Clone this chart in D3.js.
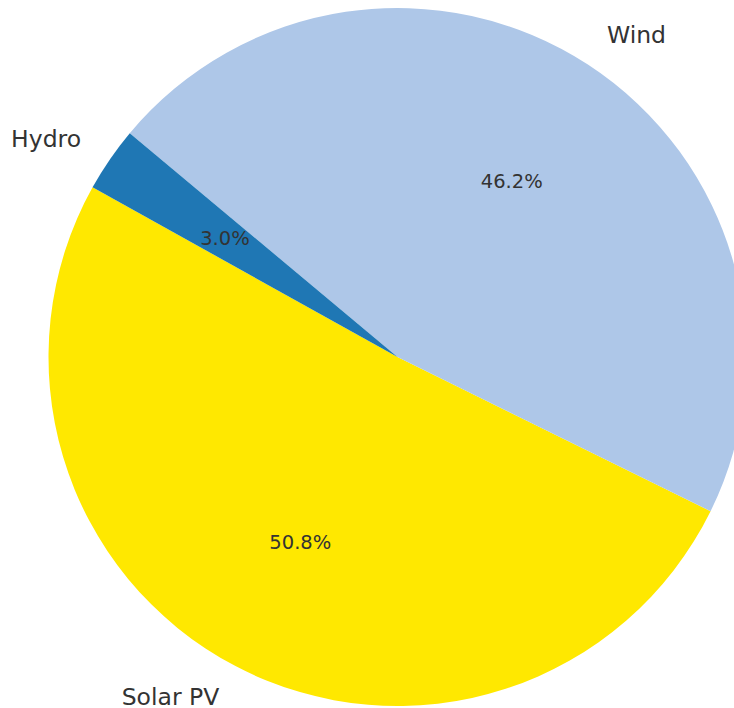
<!DOCTYPE html>
<html>
<head>
<meta charset="utf-8">
<script src="https://cdn.jsdelivr.net/npm/d3@7"></script>
<style>
  html, body { margin: 0; padding: 0; background: #fff; }
  svg text { font-family: "DejaVu Sans", sans-serif; fill: #333; }
</style>
</head>
<body>
<svg id="chart" width="734" height="708"></svg>
<script>
// Share of generation by source
const sources = ["Solar PV", "Wind", "Hydro"];
const shares = [50.8, 46.2, 3.0];
const colors = ["#ffe800", "#aec7e8", "#1f77b4"];

const width = 734, height = 708;
const cx = 397.5, cy = 357, radius = 349;
// first wedge starts at 150.9° (counter-clockwise from 3 o'clock) and wedges run counter-clockwise
const startDeg = 150.9;
const toD3 = deg => (90 - deg) * Math.PI / 180;

const svg = d3.select("#chart");
const g = svg.append("g").attr("transform", `translate(${cx},${cy})`);

const data = sources.map((s, i) => ({ source: s, share: shares[i], color: colors[i] }));

const pie = d3.pie()
  .sort(null)
  .value(d => d.share)
  .startAngle(toD3(startDeg))
  .endAngle(toD3(startDeg) - 2 * Math.PI);

const arc = d3.arc().innerRadius(0).outerRadius(radius);
const arcs = pie(data);

g.selectAll("path.slice")
  .data(arcs)
  .join("path")
  .attr("class", "slice")
  .attr("d", arc)
  .attr("fill", d => d.data.color);

const mid = d => (d.startAngle + d.endAngle) / 2;

// category names outside the pie
g.selectAll("text.name")
  .data(arcs)
  .join("text")
  .attr("class", "name")
  .attr("x", d => 1.1 * radius * Math.sin(mid(d)))
  .attr("y", d => -1.1 * radius * Math.cos(mid(d)))
  .attr("dy", "0.33em")
  .attr("text-anchor", d => Math.sin(mid(d)) > 0 ? "start" : "end")
  .attr("font-size", 23.5)
  .text(d => d.data.source);

// percentages inside the wedges
g.selectAll("text.pct")
  .data(arcs)
  .join("text")
  .attr("class", "pct")
  .attr("x", d => 0.6 * radius * Math.sin(mid(d)))
  .attr("y", d => -0.6 * radius * Math.cos(mid(d)))
  .attr("dy", "0.35em")
  .attr("text-anchor", "middle")
  .attr("font-size", 19.5)
  .text(d => d.data.share.toFixed(1) + "%");
</script>
</body>
</html>
